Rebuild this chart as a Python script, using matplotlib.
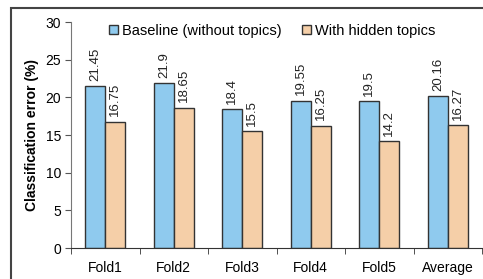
import matplotlib
matplotlib.use("Agg")
import matplotlib.pyplot as plt
from matplotlib.patches import Rectangle
import numpy as np

# Data
folds = ["Fold1", "Fold2", "Fold3", "Fold4", "Fold5", "Average"]
baseline = [21.45, 21.9, 18.4, 19.55, 19.5, 20.16]
hidden = [16.75, 18.65, 15.5, 16.25, 14.2, 16.27]
baseline_labels = ["21.45", "21.9", "18.4", "19.55", "19.5", "20.16"]
hidden_labels = ["16.75", "18.65", "15.5", "16.25", "14.2", "16.27"]

plt.rcParams["font.family"] = ["Liberation Sans", "DejaVu Sans"]

fig = plt.figure(figsize=(4.83, 2.79), dpi=100)
ax = fig.add_axes([0.147, 0.111, 0.851, 0.810])

# outer frame around the figure (cropped on right / bottom)
frame = Rectangle((11 / 483, -0.1), 1.2, 1 - 8 / 279 + 0.1,
                  transform=fig.transFigure, fill=False,
                  edgecolor="#444444", linewidth=1.5, clip_on=False)
fig.patches.append(frame)

x = np.arange(len(folds))
w = 0.29
blue = "#8fcaee"
orange = "#f5cfa8"

ax.bar(x - w / 2, baseline, w, color=blue, edgecolor="#333333",
       linewidth=1.0, label="Baseline (without topics)")
ax.bar(x + w / 2, hidden, w, color=orange, edgecolor="#333333",
       linewidth=1.0, label="With hidden topics")

# value labels above the bars
for xi, v, t in zip(x, baseline, baseline_labels):
    ax.annotate(t, (xi - w / 2, v), xytext=(0, 4), textcoords="offset points",
                rotation=90, ha="center", va="bottom", fontsize=9.5,
                color="#222222")
for xi, v, t in zip(x, hidden, hidden_labels):
    ax.annotate(t, (xi + w / 2, v), xytext=(0, 4), textcoords="offset points",
                rotation=90, ha="center", va="bottom", fontsize=9.5,
                color="#222222")

ax.set_xlim(-0.5, len(folds) - 0.5)
ax.set_ylim(0, 30)
ax.set_yticks(range(0, 31, 5))
ax.set_xticks(x)
ax.set_xticklabels(folds, fontsize=10)
ax.set_xticks(np.arange(-0.5, len(folds), 1.0), minor=True)
ax.tick_params(axis="x", which="major", length=0, pad=9)
ax.tick_params(axis="x", which="minor", length=4, color="#333333")
ax.tick_params(axis="y", labelsize=10, length=4, color="#555555", pad=3)

for s in ["top", "right"]:
    ax.spines[s].set_visible(False)
ax.spines["left"].set_color("#777777")
ax.spines["bottom"].set_color("#333333")

ax.set_ylabel("Classification error (%)", fontsize=10, fontweight="bold",
              labelpad=5)

ax.legend(loc="upper center", bbox_to_anchor=(0.49, 1.05), ncol=2,
          frameon=False, fontsize=10.5, handlelength=0.6, handleheight=0.6,
          handletextpad=0.3, columnspacing=1.4)

fig.savefig("out.png", dpi=100)
